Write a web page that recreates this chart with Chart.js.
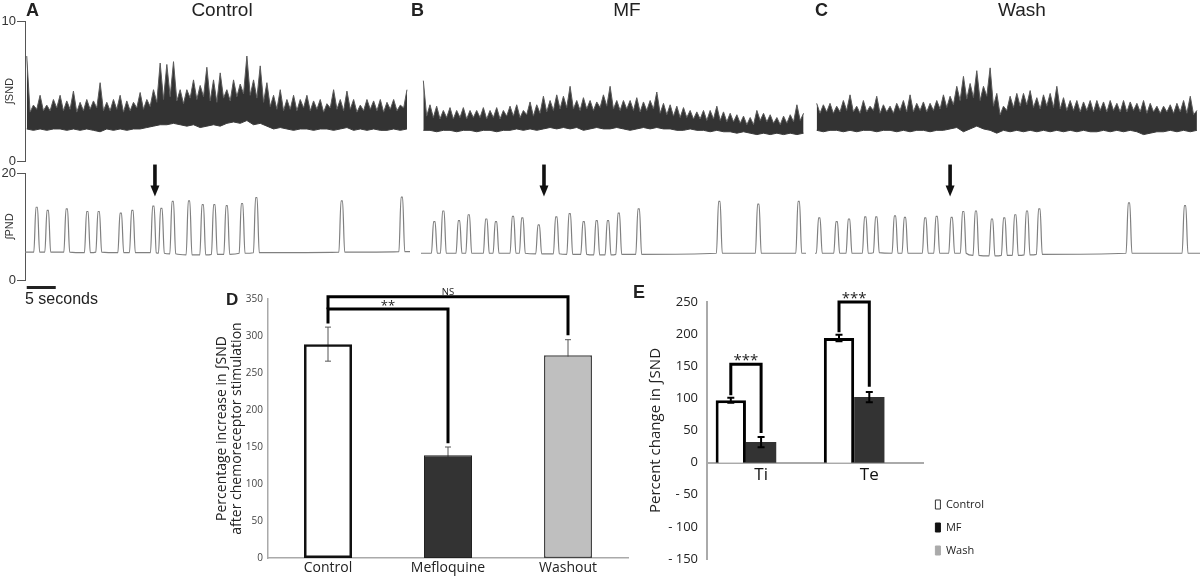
<!DOCTYPE html>
<html>
<head>
<meta charset="utf-8">
<script src="https://cdn.jsdelivr.net/npm/chart.js@4.4.1/dist/chart.umd.min.js"></script>
<style>
  body { margin: 0; width: 1200px; height: 576px; background: #fff; position: relative; overflow: hidden;
         font-family: "Liberation Sans", Arial, sans-serif; color: #222; }
  canvas { position: absolute; }
  .lbl { position: absolute; white-space: nowrap; line-height: 1; }
  .panel { font-weight: bold; font-size: 18px; }
  .cond { font-size: 19px; transform: translateX(-50%); }
</style>
</head>
<body>
<canvas id="sndA" width="410" height="170" style="left:0;top:0"></canvas>
<canvas id="pndA" width="410" height="150" style="left:0;top:160px"></canvas>
<canvas id="sndB" width="385" height="170" style="left:421px;top:0"></canvas>
<canvas id="pndB" width="385" height="150" style="left:421px;top:160px"></canvas>
<canvas id="sndC" width="385" height="170" style="left:815px;top:0"></canvas>
<canvas id="pndC" width="385" height="150" style="left:815px;top:160px"></canvas>
<canvas id="chartD" width="430" height="296" style="left:200px;top:280px"></canvas>
<canvas id="chartE" width="374" height="296" style="left:620px;top:280px"></canvas>

<div class="lbl panel" style="left:26px;top:1px">A</div>
<div class="lbl panel" style="left:411px;top:1px">B</div>
<div class="lbl panel" style="left:815px;top:1px">C</div>
<div class="lbl cond" style="left:222px;top:0">Control</div>
<div class="lbl cond" style="left:627px;top:0">MF</div>
<div class="lbl cond" style="left:1022px;top:0">Wash</div>
<div class="lbl" style="left:25px;top:291px;font-size:16px">5 seconds</div>
<div class="lbl panel" style="left:226px;top:291px;font-size:17px">D</div>
<div class="lbl panel" style="left:633px;top:283px">E</div>

<script>
// ---------- traces A/B/C ----------
// integrated SND, one reading every 1.15 s: spike tops, top of the dense core (read half-way
// between two spike readings) and floor of the band
const sndDt = 1.15;
const sndUpperA = [7.5, 4.0, 4.7, 4.0, 4.4, 4.7, 4.3, 5.0, 4.2, 4.4, 4.3, 5.6, 4.2, 4.4, 4.7, 4.3, 4.2, 4.9, 4.4, 5.1,
  7.0, 6.9, 7.1, 5.1, 5.1, 5.8, 5.4, 6.7, 5.8, 6.3, 5.1, 5.8, 5.5, 7.5, 5.8, 6.8, 5.6, 4.7, 5.1, 4.4,
  4.7, 4.4, 4.7, 4.3, 4.4, 4.1, 5.1, 4.4, 5.0, 4.4, 4.0, 4.4, 4.3, 4.4, 4.2, 4.4, 4.0, 5.1];
const sndCoreA = [3.5, 3.7, 3.6, 3.6, 3.8, 3.6, 3.7, 3.5, 3.6, 3.7, 3.8, 3.6, 3.6, 3.7, 3.5, 3.6, 3.8, 3.7, 3.9,
  4.2, 4.4, 4.6, 4.3, 4.1, 4.5, 4.4, 4.6, 4.3, 4.2, 4.5, 4.3, 4.6, 4.8, 4.7, 4.5, 4.2,
  3.9, 3.7, 3.6, 3.7, 3.6, 3.8, 3.6, 3.7, 3.5, 3.8, 3.7, 3.6, 3.7, 3.5, 3.6, 3.7, 3.6, 3.5, 3.7, 3.6, 3.8];
const sndLowerA = [2.3, 2.2, 2.3, 2.2, 2.3, 2.3, 2.2, 2.3, 2.2, 2.3, 2.2, 2.1, 2.3, 2.2, 2.3, 2.2, 2.3, 2.3, 2.4,
  2.5, 2.6, 2.6, 2.7, 2.6, 2.5, 2.6, 2.4, 2.5, 2.6, 2.5, 2.7, 2.8, 2.7, 2.9, 2.6, 2.7, 2.5,
  2.3, 2.4, 2.3, 2.2, 2.3, 2.3, 2.2, 2.3, 2.3, 2.2, 2.3, 2.4, 2.2, 2.3, 2.2, 2.3, 2.2, 2.2, 2.3, 2.2, 2.3];
const sndUpperB = [5.8, 4.1, 4.0, 3.7, 3.9, 3.7, 3.9, 3.7, 3.7, 3.9, 3.7, 3.9, 3.7, 4.0, 4.1, 3.7, 4.3, 4.1, 4.7, 4.4,
  4.8, 4.7, 5.4, 4.4, 4.6, 4.4, 4.3, 4.8, 5.4, 4.4, 4.4, 4.4, 4.6, 4.3, 4.4, 5.0, 4.2, 4.1, 4.0, 3.9,
  3.7, 3.6, 3.7, 3.7, 4.0, 3.6, 3.5, 3.4, 3.3, 3.2, 3.7, 3.5, 3.4, 3.2, 3.3, 3.4, 4.1, 3.5];
const sndCoreB = [3.3, 3.2, 3.1, 3.2, 3.1, 3.2, 3.1, 3.2, 3.2, 3.1, 3.2, 3.1, 3.3, 3.3, 3.2, 3.4, 3.3, 3.5, 3.6,
  3.7, 3.8, 3.9, 3.8, 3.7, 3.8, 3.7, 3.9, 4.0, 3.8, 3.7, 3.8, 3.7, 3.6, 3.7, 3.8, 3.5, 3.4,
  3.3, 3.2, 3.2, 3.1, 3.1, 3.0, 3.1, 3.0, 2.9, 2.9, 2.8, 2.7, 2.7, 3.0, 2.9, 2.8, 2.7, 2.8, 2.9, 3.0];
const sndLowerB = [2.3, 2.3, 2.2, 2.3, 2.3, 2.2, 2.3, 2.3, 2.2, 2.3, 2.3, 2.2, 2.3, 2.3, 2.4, 2.3, 2.4, 2.3, 2.4,
  2.5, 2.4, 2.5, 2.4, 2.5, 2.3, 2.4, 2.5, 2.4, 2.4, 2.5, 2.4, 2.3, 2.4, 2.5, 2.4, 2.5, 2.4,
  2.4, 2.3, 2.3, 2.4, 2.3, 2.3, 2.2, 2.3, 2.2, 2.2, 2.1, 2.2, 2.1, 2.0, 2.1, 2.0, 2.1, 2.0, 2.1, 2.0, 2.1];
const sndUpperC = [4.2, 4.1, 4.2, 4.0, 4.4, 4.8, 4.0, 4.4, 4.0, 4.7, 4.1, 4.0, 4.2, 4.4, 4.8, 4.2, 4.3, 4.2, 4.4, 4.8,
  4.7, 5.4, 6.1, 5.6, 6.5, 5.4, 6.7, 4.9, 4.0, 4.7, 4.9, 4.9, 5.1, 4.6, 4.8, 4.9, 5.4, 4.6, 4.4, 4.4,
  4.3, 4.4, 4.4, 4.3, 4.4, 4.2, 4.4, 4.3, 4.2, 4.4, 4.2, 4.0, 4.0, 4.1, 4.2, 4.4, 4.7, 3.7];
const sndCoreC = [3.5, 3.6, 3.5, 3.6, 3.7, 3.6, 3.5, 3.6, 3.7, 3.5, 3.6, 3.5, 3.7, 3.6, 3.6, 3.7, 3.6, 3.7, 3.8,
  3.9, 4.1, 4.4, 4.5, 4.6, 4.4, 4.7, 4.0, 3.4, 3.7,
  3.9, 4.0, 4.1, 3.9, 3.8, 4.0, 3.9, 3.8, 3.7, 3.7, 3.6, 3.7, 3.6, 3.7, 3.6, 3.7, 3.6, 3.6, 3.7, 3.6, 3.5, 3.6, 3.5, 3.6, 3.5, 3.6, 3.5, 3.4];
const sndLowerC = [2.3, 2.2, 2.3, 2.3, 2.2, 2.3, 2.2, 2.3, 2.3, 2.2, 2.3, 2.3, 2.2, 2.3, 2.2, 2.3, 2.3, 2.2, 2.3,
  2.3, 2.4, 2.5, 2.2, 2.4, 2.6, 2.4, 2.3, 2.1, 2.3, 2.2, 2.3, 2.2, 2.3, 2.2, 2.3, 2.2, 2.3, 2.2,
  2.3, 2.2, 2.3, 2.2, 2.2, 2.3, 2.2, 2.3, 2.2, 2.3, 2.2, 2.0, 2.1, 2.2, 2.2, 2.3, 2.2, 2.3, 2.2, 2.3];

// integrated PND: burst times (s), burst peaks and the baseline under each burst
const pndTimesA = [1.72, 3.62, 6.90, 10.45, 12.41, 16.21, 18.21, 21.83, 23.21, 25.17, 27.98, 30.34, 32.34, 34.48, 37.12, 39.58, 54.31, 64.66];
const pndPeaksA = [13.6, 13.0, 13.3, 12.8, 12.8, 12.5, 13.0, 13.8, 13.4, 14.7, 14.8, 14.1, 14.1, 13.9, 14.3, 15.4, 14.8, 15.5];
const pndBaseA  = [5.2, 5.2, 5.2, 5.1, 5.2, 5.1, 5.1, 5.1, 5.0, 4.9, 4.7, 4.7, 4.8, 4.8, 5.0, 5.1, 5.2, 5.3];
const pndTimesB = [1.90, 3.45, 6.15, 7.83, 10.86, 12.53, 15.46, 17.07, 19.89, 22.93, 25.24, 27.65, 29.89, 31.84, 33.69, 37.13, 51.03, 57.75, 64.72];
const pndPeaksB = [10.9, 12.9, 11.1, 12.2, 11.4, 10.9, 11.9, 11.6, 10.3, 11.8, 12.4, 10.9, 11.1, 11.1, 12.5, 13.3, 14.7, 14.2, 14.7];
const pndBaseB  = [5.0, 5.0, 5.0, 5.0, 5.0, 5.0, 5.0, 5.0, 4.9, 4.9, 4.8, 4.8, 4.7, 4.7, 4.8, 4.8, 5.0, 5.0, 5.0];
const pndTimesC = [0.45, 3.45, 5.57, 8.38, 10.28, 13.50, 15.22, 18.72, 20.69, 23.27, 25.27, 27.46, 30.22, 32.34, 34.24, 36.26, 38.38, 53.84, 63.50];
const pndPeaksC = [11.6, 10.9, 11.4, 11.8, 11.8, 12.0, 11.7, 11.6, 11.9, 11.7, 12.8, 12.9, 11.4, 11.6, 12.2, 12.9, 13.3, 14.4, 13.9];
const pndBaseC  = [5.0, 5.0, 5.0, 5.0, 5.1, 5.0, 5.0, 5.0, 5.0, 5.0, 5.0, 4.6, 4.5, 4.6, 4.6, 4.7, 4.8, 5.0, 5.0];

// time of the chemoreceptor stimulus (arrow) in each panel, s
const arrowTimes = [22.1, 20.8, 23.0];
const scaleBarSec = 5;

// ---------- panel D ----------
const dCats = ['Control', 'Mefloquine', 'Washout'];
const dMeans = [289, 139, 274];
const dErr = [23, 11, 21];

// ---------- panel E ----------
const eCats = ['Ti', 'Te'];
const eControl = [97, 194];
const eMF = [32, 102];
const eWash = [null, null];
const eControlErr = [4, 5];
const eMFErr = [8, 8];


const sampled = vals => vals.map((v, i) => ({ x: i * sndDt, y: v }));

// spike tops at the reading times, core tops half-way between them
function spiky(tops, core) {
  const pts = [];
  tops.forEach((v, i) => {
    pts.push({ x: i * sndDt, y: v });
    if (i < core.length) pts.push({ x: (i + 0.5) * sndDt, y: core[i] });
  });
  return pts;
}

function burstTrace(times, peaks, bases, xMin, xMax) {
  const pts = [{ x: xMin, y: bases[0] }];
  times.forEach((t, i) => {
    pts.push({ x: t - 0.5, y: bases[i] }, { x: t - 0.13, y: peaks[i] },
             { x: t + 0.13, y: peaks[i] }, { x: t + 0.5, y: bases[i] });
  });
  pts.push({ x: xMax, y: bases[bases.length - 1] });
  return pts;
}

function arrowPlugin(t) {
  return {
    id: 'arrow',
    afterDatasetsDraw(chart) {
      const { ctx, scales: { x, y } } = chart;
      const px = x.getPixelForValue(t);
      const tip = y.getPixelForValue(15.6);
      ctx.save();
      ctx.fillStyle = '#111';
      ctx.fillRect(px - 1.8, tip - 32, 3.6, 22);
      ctx.beginPath();
      ctx.moveTo(px - 4.5, tip - 11);
      ctx.lineTo(px + 4.5, tip - 11);
      ctx.lineTo(px, tip);
      ctx.closePath();
      ctx.fill();
      ctx.restore();
    }
  };
}

const scaleBarPlugin = {
  id: 'scalebar',
  afterDraw(chart) {
    const { ctx, chartArea, scales: { x } } = chart;
    const x0 = x.getPixelForValue(0);
    ctx.save();
    ctx.fillStyle = '#222';
    ctx.fillRect(x0, chartArea.bottom + 6, x.getPixelForValue(scaleBarSec) - x0, 3);
    ctx.restore();
  }
};

function makeTrace(id, o) {
  return new Chart(document.getElementById(id), {
    type: 'line',
    data: { datasets: o.datasets },
    options: {
      responsive: false,
      animation: false,
      layout: { padding: o.padding },
      plugins: { legend: { display: false }, tooltip: { enabled: false } },
      scales: {
        x: { type: 'linear', display: false, min: o.xMin, max: o.xMax },
        y: {
          display: o.axis,
          min: 0,
          max: o.yMax,
          afterFit: s => { s.width = o.axis ? 25 : 0; },
          border: { color: '#555', width: 1 },
          grid: { drawOnChartArea: false, tickLength: 8, color: '#555' },
          ticks: { stepSize: o.yMax, color: '#333', padding: 1, font: { family: 'Liberation Sans', size: 13 } },
          title: { display: true, text: o.title, color: '#333', padding: { top: 3, bottom: 0 },
                   font: { family: 'Liberation Sans', size: 11 } }
        }
      }
    },
    plugins: o.plugins || []
  });
}

const panels = [
  { key: 'A', axis: true,  xMin: -0.3, xMax: 66.07, up: sndUpperA, core: sndCoreA, lo: sndLowerA, t: pndTimesA, p: pndPeaksA, b: pndBaseA },
  { key: 'B', axis: false, xMin: -0.4, xMax: 65.97, up: sndUpperB, core: sndCoreB, lo: sndLowerB, t: pndTimesB, p: pndPeaksB, b: pndBaseB },
  { key: 'C', axis: false, xMin: -0.29, xMax: 66.08, up: sndUpperC, core: sndCoreC, lo: sndLowerC, t: pndTimesC, p: pndPeaksC, b: pndBaseC }
];

panels.forEach((pn, i) => {
  makeTrace('snd' + pn.key, {
    axis: pn.axis, xMin: pn.xMin, xMax: pn.xMax, yMax: 10, title: '∫SND',
    padding: { top: 21, bottom: 7 },
    datasets: [
      { data: sampled(pn.lo), borderColor: '#3a3a3a', borderWidth: 1, pointRadius: 0, fill: false },
      { data: spiky(pn.up, pn.core), borderColor: '#5a5a5a', borderWidth: 1, pointRadius: 0,
        fill: '-1', backgroundColor: '#333333' }
    ]
  });
  const extra = [arrowPlugin(arrowTimes[i])];
  if (pn.axis) extra.push(scaleBarPlugin);
  makeTrace('pnd' + pn.key, {
    axis: pn.axis, xMin: pn.xMin, xMax: pn.xMax, yMax: 20, title: '∫PND',
    padding: { top: 13, bottom: 30 },
    datasets: [
      { data: burstTrace(pn.t, pn.p, pn.b, pn.xMin, pn.xMax), borderColor: '#808080', borderWidth: 1.2,
        pointRadius: 0, fill: false, cubicInterpolationMode: 'monotone' }
    ],
    plugins: extra
  });
});

// ---------- helpers for D and E ----------
function errorPlugin(hook, sets, style) {
  return {
    id: 'errors-' + hook,
    [hook](chart) {
      const { ctx, scales: { y } } = chart;
      ctx.save();
      ctx.strokeStyle = style.color;
      ctx.lineWidth = style.width;
      sets.forEach(([dsIndex, means, errs]) => {
        chart.getDatasetMeta(dsIndex).data.forEach((bar, j) => {
          if (means[j] == null) return;
          const hi = y.getPixelForValue(means[j] + errs[j]);
          const lo = y.getPixelForValue(means[j] - errs[j]);
          ctx.beginPath();
          ctx.moveTo(bar.x, hi); ctx.lineTo(bar.x, lo);
          ctx.moveTo(bar.x - style.cap, hi); ctx.lineTo(bar.x + style.cap, hi);
          ctx.moveTo(bar.x - style.cap, lo); ctx.lineTo(bar.x + style.cap, lo);
          ctx.stroke();
        });
      });
      ctx.restore();
    }
  };
}

function bracketPlugin(brackets) {
  return {
    id: 'brackets',
    afterDatasetsDraw(chart) {
      const { ctx, scales: { y } } = chart;
      ctx.save();
      brackets.forEach(b => {
        const x1 = chart.getDatasetMeta(b.from[0]).data[b.from[1]].x;
        const x2 = chart.getDatasetMeta(b.to[0]).data[b.to[1]].x;
        const top = y.getPixelForValue(b.level);
        ctx.strokeStyle = '#000';
        ctx.lineWidth = 3;
        ctx.beginPath();
        ctx.moveTo(x1, y.getPixelForValue(b.legs[0]));
        ctx.lineTo(x1, top);
        ctx.lineTo(x2, top);
        ctx.lineTo(x2, y.getPixelForValue(b.legs[1]));
        ctx.stroke();
        ctx.fillStyle = '#222';
        ctx.font = b.font;
        ctx.textAlign = 'center';
        ctx.textBaseline = 'alphabetic';
        ctx.fillText(b.label, (x1 + x2) / 2, top - b.gap);
      });
      ctx.restore();
    }
  };
}

// ---------- panel D ----------
new Chart(document.getElementById('chartD'), {
  type: 'bar',
  data: {
    labels: dCats,
    datasets: [{
      data: dMeans,
      backgroundColor: ['rgba(255,255,255,0)', '#333333', '#bfbfbf'],
      borderColor: ['#111', '#222', '#444'],
      borderWidth: [2.5, 1, 1.5],
      borderSkipped: false,
      barPercentage: 0.4,
      categoryPercentage: 1
    }]
  },
  options: {
    responsive: false,
    animation: false,
    layout: { padding: { top: 19, right: 2 } },
    plugins: { legend: { display: false }, tooltip: { enabled: false } },
    scales: {
      x: {
        afterFit: s => { s.height = 18; },
        grid: { display: false, drawTicks: false },
        border: { color: '#aaa', width: 1.5 },
        ticks: { color: '#222', padding: 2, font: { family: 'Open Sans', size: 14 } }
      },
      y: {
        min: 0, max: 350,
        afterFit: s => { s.width = 68; },
        grid: { display: false, drawTicks: false },
        border: { color: '#aaa', width: 1.5 },
        ticks: { stepSize: 50, color: '#444', padding: 5, font: { family: 'Open Sans', size: 10 } },
        title: {
          display: true,
          text: ['Percentage increase in ∫SND', 'after chemoreceptor stimulation'],
          color: '#222',
          padding: { top: 14, bottom: 0 },
          font: { family: 'Open Sans', size: 14, lineHeight: 1.1 }
        }
      }
    }
  },
  plugins: [
    errorPlugin('beforeDatasetsDraw', [[0, dMeans, dErr]], { color: '#555', width: 1, cap: 3 }),
    bracketPlugin([
      { from: [0, 0], to: [0, 2], level: 353, legs: [336, 301], label: 'NS', font: '9.5px "Open Sans"', gap: 2 },
      { from: [0, 0], to: [0, 1], level: 336.5, legs: [317, 155], label: '**', font: '13px "Open Sans"', gap: -1 }
    ])
  ]
});

// ---------- panel E ----------
new Chart(document.getElementById('chartE'), {
  type: 'bar',
  data: {
    labels: eCats,
    datasets: [
      { label: 'Control', data: eControl, backgroundColor: '#fff', borderColor: '#000', borderWidth: 3 },
      { label: 'MF', data: eMF, backgroundColor: '#333', borderWidth: 0 },
      { label: 'Wash', data: eWash, backgroundColor: '#aaa', borderWidth: 0 }
    ]
  },
  options: {
    responsive: false,
    animation: false,
    layout: { padding: { top: 22, bottom: 17 } },
    datasets: { bar: { barPercentage: 1, categoryPercentage: 0.84 } },
    plugins: {
      tooltip: { enabled: false },
      legend: {
        position: 'right',
        align: 'end',
        labels: {
          boxWidth: 5, boxHeight: 9, padding: 12, color: '#222',
          font: { family: 'Open Sans', size: 11 },
          generateLabels(chart) {
            const items = Chart.defaults.plugins.legend.labels.generateLabels(chart);
            items.forEach((it, i) => {
              it.lineWidth = 1;
              it.strokeStyle = i === 0 ? '#333' : it.fillStyle;
              if (i === 1) { it.fillStyle = '#111'; it.strokeStyle = '#111'; }
            });
            return items;
          }
        }
      }
    },
    scales: {
      x: {
        position: { y: 0 },
        grid: { display: false, drawTicks: false },
        border: { color: '#aaa', width: 2 },
        ticks: { color: '#111', padding: 2, font: { family: 'Open Sans', size: 17 } }
      },
      y: {
        min: -150, max: 250,
        afterFit: s => { s.width = 87; },
        grid: { display: false, drawTicks: false },
        border: { color: '#aaa', width: 2 },
        ticks: {
          stepSize: 50, color: '#222', padding: 9, font: { family: 'Open Sans', size: 13 },
          callback: v => (v < 0 ? '- ' + Math.abs(v) : String(v))
        },
        title: {
          display: true, text: 'Percent change in ∫SND', color: '#222',
          padding: { top: 27, bottom: 0 }, font: { family: 'Open Sans', size: 15 }
        }
      }
    }
  },
  plugins: [
    {
      id: 'legendShift',
      afterLayout(chart) { chart.legend.top += 9; chart.legend.bottom += 9; }
    },
    errorPlugin('afterDatasetsDraw', [[0, eControl, eControlErr], [1, eMF, eMFErr]], { color: '#000', width: 2, cap: 3.5 }),
    bracketPlugin([
      { from: [0, 0], to: [1, 0], level: 153, legs: [105, 46], label: '***', font: '15px "Open Sans"', gap: -1 },
      { from: [0, 1], to: [1, 1], level: 250, legs: [203, 118], label: '***', font: '15px "Open Sans"', gap: -1 }
    ])
  ]
});
</script>
</body>
</html>
